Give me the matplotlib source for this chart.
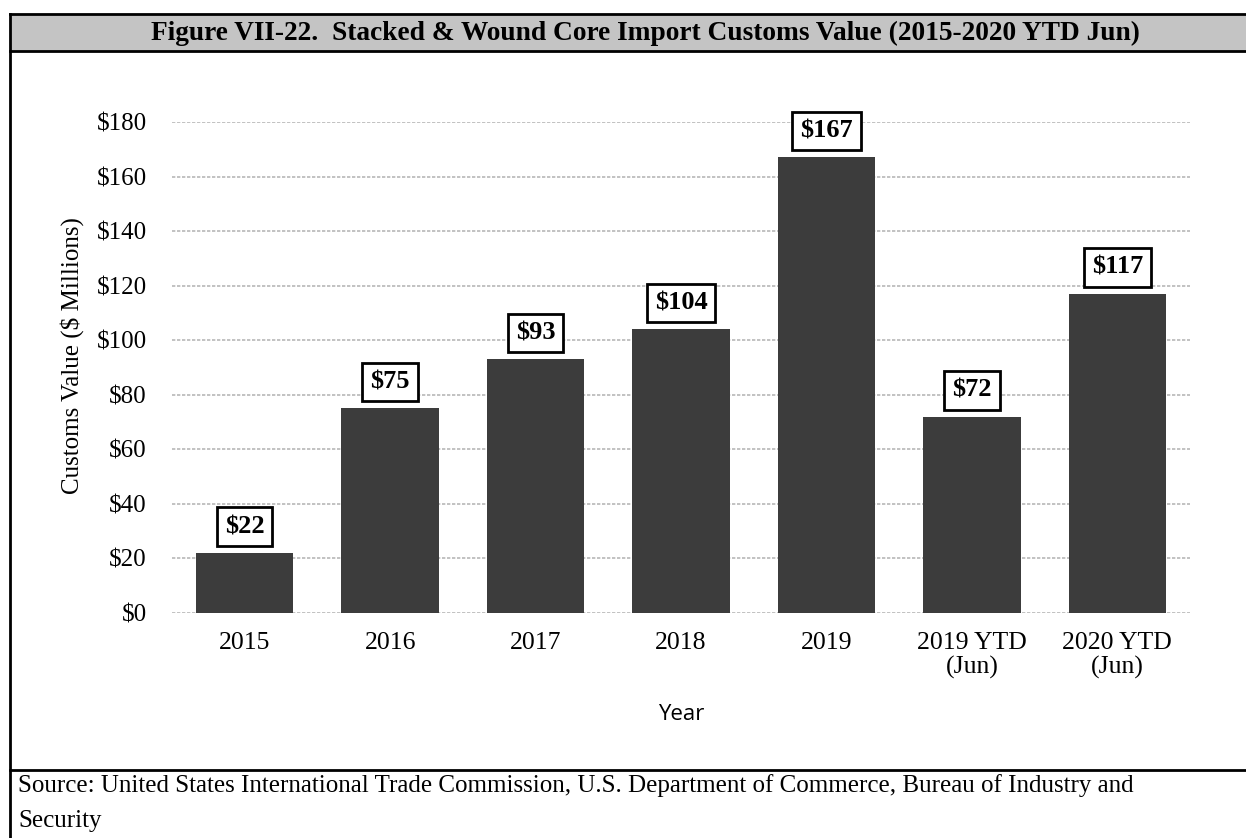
import matplotlib
matplotlib.use("Agg")
import matplotlib.pyplot as plt
from matplotlib.lines import Line2D
from matplotlib.patches import Rectangle

categories = ["2015", "2016", "2017", "2018", "2019", "2019 YTD\n(Jun)", "2020 YTD\n(Jun)"]
values = [22, 75, 93, 104, 167, 72, 117]
labels = ["$22", "$75", "$93", "$104", "$167", "$72", "$117"]
yticks = [0, 20, 40, 60, 80, 100, 120, 140, 160, 180]
ytick_labels = ["$0", "$20", "$40", "$60", "$80", "$100", "$120", "$140", "$160", "$180"]

title = "Figure VII-22.  Stacked & Wound Core Import Customs Value (2015-2020 YTD Jun)"
source = "Source: United States International Trade Commission, U.S. Department of Commerce, Bureau of Industry and\nSecurity"

W, H = 1246, 838
fig = plt.figure(figsize=(W / 100, H / 100), dpi=100)
serif = "Liberation Serif"

def fx(px):
    return px / W

def fy(py):
    return 1 - py / H

# Title band
fig.patches.append(Rectangle((fx(10), fy(51)), fx(1246) - fx(10), fy(14) - fy(51),
                             transform=fig.transFigure, facecolor="#c4c4c4", edgecolor="none", zorder=0))
for (x0, y0, x1, y1) in [(10, 14, 1246, 14), (10, 51, 1246, 51), (10, 770, 1246, 770), (10, 14, 10, 838)]:
    fig.lines.append(Line2D([fx(x0), fx(x1)], [fy(y0), fy(y1)], transform=fig.transFigure,
                            color="black", linewidth=2, zorder=1))
fig.text(fx(645), fy(33), title, ha="center", va="center", fontsize=19.7, fontweight="bold", family=serif)
fig.text(fx(18), fy(774), source, ha="left", va="top", fontsize=18, family=serif, linespacing=1.75)

ax = fig.add_axes([fx(172), fy(613), fx(1190) - fx(172), fy(122) - fy(613)])
x = list(range(len(categories)))
ax.bar(x, values, width=0.67, color="#3c3c3c", zorder=2)
ax.set_xlim(-0.5, len(categories) - 0.5)
ax.set_ylim(0, 180)
ax.set_yticks(yticks)
ax.set_yticklabels(ytick_labels, family=serif, fontsize=18)
ax.set_xticks(x)
ax.set_xticklabels(categories, family=serif, fontsize=18.5, linespacing=1.1)
ax.tick_params(axis="both", length=0)
ax.tick_params(axis="y", pad=18)
ax.tick_params(axis="x", pad=14)
ax.grid(axis="y", color="#b8b8b8", linewidth=1.2, linestyle=(0, (2, 1)), zorder=0)
for s in ax.spines.values():
    s.set_visible(False)
ax.set_ylabel("Customs Value ($ Millions)", family=serif, fontsize=18)
ax.yaxis.set_label_coords(-0.086, 0.525)
ax.set_xlabel("Year", family="Open Sans", fontsize=16, labelpad=18)

for xi, v, lab in zip(x, values, labels):
    ax.annotate(lab, (xi, v), xytext=(0, 19), textcoords="offset points", ha="center", va="center",
                fontsize=19, fontweight="bold", family=serif, zorder=3,
                bbox=dict(boxstyle="square,pad=0.3", facecolor="white", edgecolor="black", linewidth=2))

fig.savefig("out.png", dpi=100, facecolor="white")
